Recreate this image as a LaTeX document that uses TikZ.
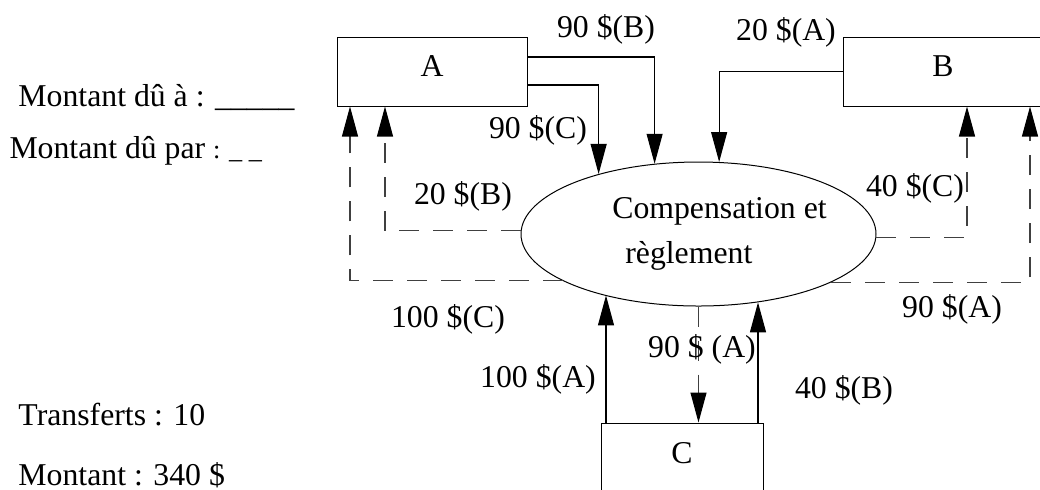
\documentclass[tikz,border=0pt]{standalone}
\usepackage{fontspec}
\setmainfont{Liberation Serif}
\usepackage{tikz}
\usetikzlibrary{shapes,arrows.meta,positioning}

\tikzset{
    acct/.style={rectangle, draw, inner sep=0pt, minimum height=27.6pt, text depth=4pt},
    flow/.style={-{Triangle[length=12pt,width=6.4pt,color=black]}, line width=0.45pt},
    due/.style={flow, draw=black!75, dash pattern=on 8pt off 5.6pt}
}

\begin{document}
\begin{tikzpicture}[x=0.4pt, y=-0.4pt, font=\fontsize{12.7}{15}\selectfont]
    \clip (0,0) rectangle (1040,489);

    % the three banks and the clearing house
    \node (A) [acct, minimum width=76pt] at (432,71.5) {A\hspace{13.6pt}};
    \node (B) [acct, minimum width=80pt] at (943,71.5) {B};
    \node (C) [acct, minimum width=64.8pt] at (682,457.5) {C};
    \node (E) [ellipse, draw, inner sep=0pt, inner xsep=-2pt, minimum width=142pt, minimum height=57.6pt, align=left, font=\fontsize{12.7}{18}\selectfont] at (698.5,234) {\hspace*{16.8pt}Compensation et\\\hspace*{22pt}règlement};

    % legend
    \node (dueto)   [anchor=base west, inner sep=0pt] at (18,106.7) {Montant dû à : \_\_\_\_\_};
    \node (duefrom) [anchor=base west, inner sep=0pt] at (9,158) {Montant dû par {\fontsize{10.5}{12}\selectfont: \_ \_}};
    \node (transfers) [anchor=base west, inner sep=0pt] at (18,425) {Transferts : 10};
    \node (total)   [anchor=base west, inner sep=0pt] at (18,485) {Montant : 340 \$};

    % payments to the clearing house
    \coordinate (cA) at ([xshift=-30.4pt]C.north);
    \coordinate (cB) at ([xshift=30.4pt]C.north);
    \draw [flow] ([yshift=5.8pt]A.east) -| (E.122.6);
    \draw [flow] ([yshift=-5.4pt]A.east) -| (E.149.4);
    \draw [flow] (B.west) -| (E.74.8);
    \draw [flow] (cA) -- (cA |- E.213.6);
    \draw [flow] (cB) -- (cB |- E.311.3);

    % amounts paid out
    \draw [due] (E.179) -| ([xshift=-18.8pt]A.south);
    \draw [due] (E.199.9) -| ([xshift=-32.8pt]A.south);
    \draw [due] (E.359) -| ([xshift=9.6pt]B.south);
    \draw [due] (E.340.1) -| ([xshift=34.8pt]B.south);
    \draw [due] (E.south) -- (E.south |- C.north);

    % amounts
    \node (aToB) at (606,29)  {90 \$(B)};
    \node (aToC) at (538,130) {90 \$(C)};
    \node (bToA) at (786,32)  {20 \$(A)};
    \node (bForA) at (463,196) {20 \$(B)};
    \node (cForA) at (448,319) {100 \$(C)};
    \node (cForB) at (915,188) {40 \$(C)};
    \node (aForB) at (952,309) {90 \$(A)};
    \node (cToA) at (538,379) {100 \$(A)};
    \node (cToB) at (844,390) {40 \$(B)};
    \node (aForC) at (702,349) {90 \$ (A)};
\end{tikzpicture}
\end{document}
